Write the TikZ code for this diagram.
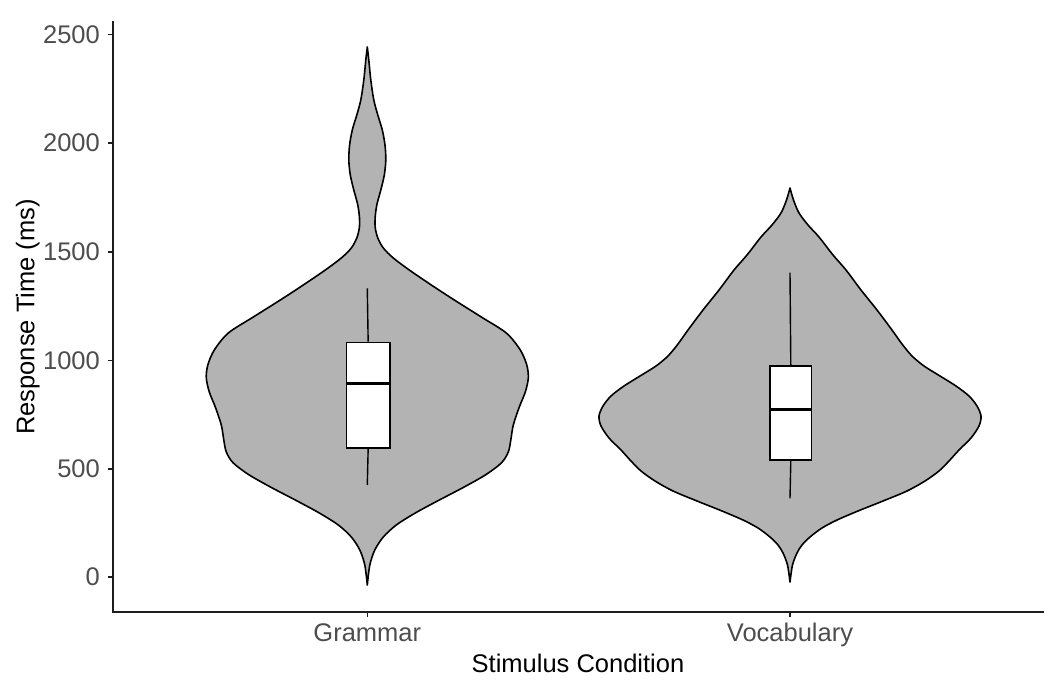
\documentclass[tikz,border=0pt]{standalone}
\usepackage{fontspec}
\setmainfont{Liberation Sans}
\definecolor{vfill}{RGB}{179,179,179}
\definecolor{tickgray}{RGB}{77,77,77}
\definecolor{axisc}{RGB}{30,30,30}
\begin{document}
\begin{tikzpicture}[x=1pt,y=-1pt,
  violin/.style={fill=vfill, draw=black, line width=1.6pt, line join=round},
  boxst/.style={fill=white, draw=black, line width=1.6pt},
  medianst/.style={draw=black, line width=2.8pt},
  whisker/.style={draw=black, line width=1.4pt},
  axisline/.style={draw=axisc, line width=2pt},
  tickmark/.style={draw=axisc, line width=1.4pt},
  ticklab/.style={text=tickgray, font=\fontsize{25.5}{30}\selectfont, inner sep=0pt},
  axtitle/.style={text=black, font=\fontsize{25.5}{30}\selectfont, inner sep=0pt}]
\useasboundingbox (0,0) rectangle (1053,688);

% Grammar violin
\begin{scope}[shift={(367.3,0)}]
\draw[violin] plot[smooth, tension=0.5] coordinates {(0,47) (1.5,60) (3.5,80) (6.5,100) (10.5,115) (15,130) (17.7,145) (18.5,160) (17,175) (13.5,190) (9.5,205) (7.8,218) (8,228) (10.5,238) (16,248) (26,258) (42,270) (64,285) (87,300) (114,317) (139,333) (153,350) (159.5,365) (161,378) (158,392) (152,407) (146,425) (143.5,440) (141,452) (134,463) (118,475) (95,488) (72,500) (48,513) (29,525) (16,537) (7.5,550) (2.5,565) (0,585)}
 -- plot[smooth, tension=0.5] coordinates {(0,585) (-2.5,565) (-7.5,550) (-16,537) (-29,525) (-48,513) (-72,500) (-95,488) (-118,475) (-134,463) (-141,452) (-143.5,440) (-146,425) (-152,407) (-158,392) (-161,378) (-159.5,365) (-153,350) (-139,333) (-114,317) (-87,300) (-64,285) (-42,270) (-26,258) (-16,248) (-10.5,238) (-8,228) (-7.8,218) (-9.5,205) (-13.5,190) (-17,175) (-18.5,160) (-17.7,145) (-15,130) (-10.5,115) (-6.5,100) (-3.5,80) (-1.5,60) (0,47)} -- cycle;
\end{scope}

% Vocabulary violin
\begin{scope}[shift={(790,0)}]
\draw[violin] plot[smooth, tension=0.5] coordinates {(0,188) (3.5,200) (9,213) (18,225) (29,237) (43,255) (56,270) (71,290) (87,310) (102,330) (112,344) (122,356) (134,366) (150,376) (166,386) (179,396) (187,406) (191,416) (189,426) (181,438) (169,450) (159,461) (149,471) (135,481) (117,491) (93,501) (68,511) (47,520) (32,528) (20,537) (12,545) (7,553) (2.5,565) (0,582)}
 -- plot[smooth, tension=0.5] coordinates {(0,582) (-2.5,565) (-7,553) (-12,545) (-20,537) (-32,528) (-47,520) (-68,511) (-93,501) (-117,491) (-135,481) (-149,471) (-159,461) (-169,450) (-181,438) (-189,426) (-191,416) (-187,406) (-179,396) (-166,386) (-150,376) (-134,366) (-122,356) (-112,344) (-102,330) (-87,310) (-71,290) (-56,270) (-43,255) (-29,237) (-18,225) (-9,213) (-3.5,200) (0,188)} -- cycle;
\end{scope}

% Grammar box plot
\coordinate (gwt) at (367.3,288.3);
\coordinate (gwb) at (367.3,485);
\node[boxst, minimum width=43.3pt, minimum height=105.6pt, inner sep=0pt, anchor=north west] (gbox) at (345.7,341.7) {};
\draw[whisker] (gwt) -- (gbox.north);
\draw[whisker] (gbox.south) -- (gwb);
\draw[medianst] (345.7,383.3) -- (389,383.3);

% Vocabulary box plot
\coordinate (vwt) at (790,272.7);
\coordinate (vwb) at (790,498.3);
\node[boxst, minimum width=41.4pt, minimum height=94.3pt, inner sep=0pt, anchor=north west] (vbox) at (769.3,365) {};
\draw[whisker] (vwt) -- (vbox.north);
\draw[whisker] (vbox.south) -- (vwb);
\draw[medianst] (769.3,409.3) -- (810.7,409.3);

% axes
\coordinate (ytop) at (113,22);
\coordinate (origin) at (113,612);
\coordinate (xend) at (1043,612);
\draw[axisline, line cap=rect] (ytop) -- (origin) -- (xend);

% y ticks
\foreach \v/\yy in {0/577,500/469,1000/360.5,1500/252,2000/143,2500/34.5} {
  \draw[tickmark] (108,\yy) -- (113,\yy);
  \node[ticklab, anchor=east] (yl\v) at (100,\yy) {\v};
}

% x ticks
\draw[tickmark] (367.3,612) -- (367.3,617);
\draw[tickmark] (790,612) -- (790,617);
\node[ticklab, anchor=base] (xlg) at (367.3,641) {Grammar};
\node[ticklab, anchor=base] (xlv) at (790,641.5) {Vocabulary};

% axis titles
\node[axtitle, anchor=base] (xtitle) at (578,672.5) {Stimulus Condition};
\node[axtitle, anchor=base, rotate=90] (ytitle) at (34.3,317) {Response Time (ms)};
\end{tikzpicture}
\end{document}
